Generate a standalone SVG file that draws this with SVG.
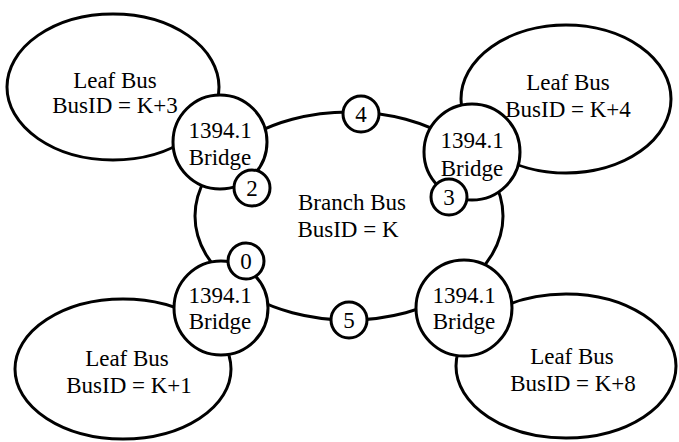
<svg xmlns="http://www.w3.org/2000/svg" width="679" height="442" viewBox="0 0 679 442">
  <style>
    .ln { fill: none; stroke: #000; stroke-width: 3; }
    .nd { fill: #fff; stroke: #000; stroke-width: 3; }
    text { font-family: "Liberation Serif", "Times New Roman", serif; font-size: 23px; fill: #000; text-anchor: middle; }
  </style>
  <rect width="679" height="442" fill="#fff"/>

  <!-- leaf buses -->
  <g id="leaf-k3">
    <ellipse class="nd" cx="113" cy="87" rx="106" ry="73"/>
  </g>
  <g id="leaf-k4">
    <ellipse class="nd" cx="566" cy="99" rx="105" ry="74"/>
  </g>
  <g id="leaf-k1">
    <ellipse class="nd" cx="123" cy="369" rx="108" ry="70"/>
  </g>
  <g id="leaf-k8">
    <ellipse class="nd" cx="566" cy="366" rx="110" ry="72"/>
  </g>

  <!-- branch bus ring -->
  <g id="connectors">
    <ellipse class="ln" cx="349" cy="216" rx="154" ry="104"/>
  </g>

  <!-- bridges -->
  <g id="bridge-tl">
    <circle class="nd" cx="220" cy="142" r="47"/>
    <text x="220" y="138">1394.1</text>
    <text x="220" y="165">Bridge</text>
  </g>
  <g id="bridge-tr">
    <circle class="nd" cx="472" cy="152" r="48"/>
    <text x="472" y="148">1394.1</text>
    <text x="472" y="176">Bridge</text>
  </g>
  <g id="bridge-bl">
    <circle class="nd" cx="221" cy="308" r="47"/>
    <text x="220" y="303">1394.1</text>
    <text x="220" y="329">Bridge</text>
  </g>
  <g id="bridge-br">
    <circle class="nd" cx="464" cy="308" r="48"/>
    <text x="464" y="303">1394.1</text>
    <text x="464" y="329">Bridge</text>
  </g>

  <!-- port numbers -->
  <g id="port-2">
    <circle class="nd" cx="252" cy="188" r="18"/>
    <text x="252" y="196">2</text>
  </g>
  <g id="port-4">
    <circle class="nd" cx="361" cy="114" r="18"/>
    <text x="361" y="122">4</text>
  </g>
  <g id="port-3">
    <circle class="nd" cx="449" cy="197" r="18"/>
    <text x="449" y="205">3</text>
  </g>
  <g id="port-0">
    <circle class="nd" cx="246" cy="261" r="18"/>
    <text x="246" y="269">0</text>
  </g>
  <g id="port-5">
    <circle class="nd" cx="349" cy="320" r="18"/>
    <text x="349" y="328">5</text>
  </g>

  <!-- bus labels -->
  <g id="label-branch">
    <text x="352" y="210">Branch Bus</text>
    <text x="348" y="237">BusID = K</text>
  </g>
  <g id="label-k3">
    <text x="115" y="88">Leaf Bus</text>
    <text x="115" y="113">BusID = K+3</text>
  </g>
  <g id="label-k4">
    <text x="568" y="90">Leaf Bus</text>
    <text x="568" y="117">BusID = K+4</text>
  </g>
  <g id="label-k1">
    <text x="127" y="366">Leaf Bus</text>
    <text x="129" y="393">BusID = K+1</text>
  </g>
  <g id="label-k8">
    <text x="572" y="364">Leaf Bus</text>
    <text x="573" y="391">BusID = K+8</text>
  </g>
</svg>
